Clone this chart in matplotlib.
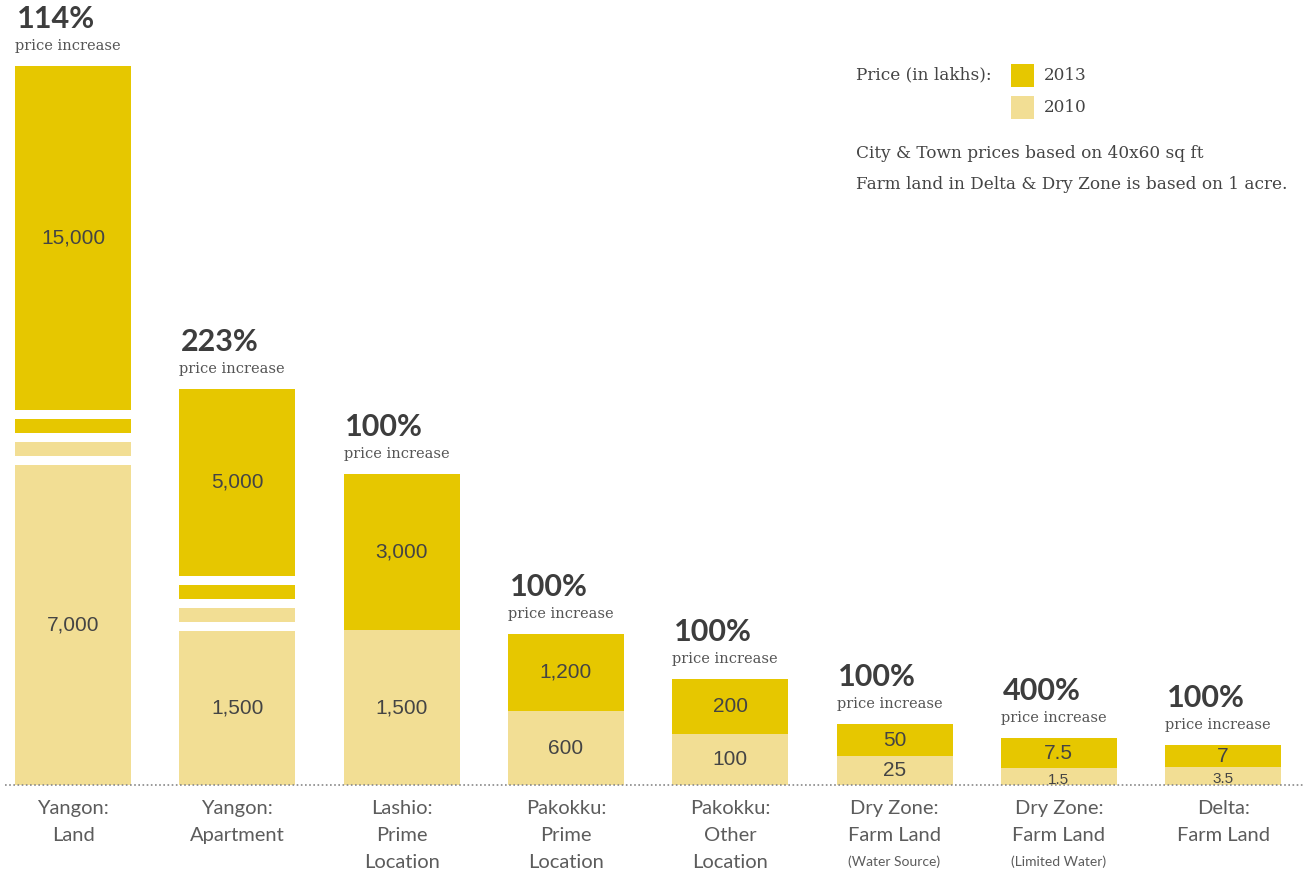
#Land price rise in Myanmar, 2010 vs 2013 (not drawn to scale)
import matplotlib.pyplot as plt

categories = ["Yangon:\nLand", "Yangon:\nApartment", "Lashio:\nPrime\nLocation",
              "Pakokku:\nPrime\nLocation", "Pakokku:\nOther\nLocation",
              "Dry Zone:\nFarm Land", "Dry Zone:\nFarm Land", "Delta:\nFarm Land"]
subnotes = ["", "", "", "", "", "(Water Source)", "(Limited Water)", ""]
price_2010 = ["7,000", "1,500", "1,500", "600", "100", "25", "1.5", "3.5"]
price_2013 = ["15,000", "5,000", "3,000", "1,200", "200", "50", "7.5", "7"]
increase = ["114%", "223%", "100%", "100%", "100%", "100%", "400%", "100%"]

# the original is not to scale: drawn block lengths (px)
drawn_2010 = [343, 177, 155, 74, 51, 29, 17, 18]
drawn_2013 = [376, 219, 156, 77, 55, 32, 30, 22]
broken = [True, True, False, False, False, False, False, False]
gap, stub = 9, 14

c13 = "#E6C700"
c10 = "#F2DE94"
dark = "#444444"
serif = "DejaVu Serif"
sans = "Liberation Sans"

fig = plt.figure(figsize=(13.03, 8.72), dpi=100)
ax = fig.add_axes([0, 0, 1, 1])
ax.set_xlim(-73 / 164.3, (1303 - 73) / 164.3)
ax.set_ylim(-87, 785)
ax.axis("off")
w = 116 / 164.3

for i in range(len(categories)):
    b10 = drawn_2010[i]
    b13 = drawn_2013[i]
    if broken[i]:
        main10 = b10 - stub - gap
        ax.bar(i, main10, w, bottom=0, color=c10, lw=0)
        ax.bar(i, stub, w, bottom=b10 - stub, color=c10, lw=0)
        ax.bar(i, stub, w, bottom=b10 + gap, color=c13, lw=0)
        ax.bar(i, b13 - stub - 2 * gap, w, bottom=b10 + stub + 2 * gap, color=c13, lw=0)
        y10 = main10 / 2
        y13 = b10 + stub + 2 * gap + (b13 - stub - 2 * gap) / 2
    else:
        ax.bar(i, b10, w, bottom=0, color=c10, lw=0)
        ax.bar(i, b13, w, bottom=b10, color=c13, lw=0)
        y10 = b10 / 2
        y13 = b10 + b13 / 2
    small10 = b10 < 20
    ax.text(i, y10 - (3 if small10 else 0), price_2010[i], ha="center", va="center",
            fontsize=11 if small10 else 15, color=dark, family=sans)
    ax.text(i, y13, price_2013[i], ha="center", va="center", fontsize=15, color=dark, family=sans)
    top = b10 + b13
    ax.text(i - w / 2 + 0.01, top + 38, increase[i], ha="left", va="baseline", fontsize=22,
            fontweight="bold", color="#3d3d3d", family="Lato")
    ax.text(i - w / 2, top + 16, "price increase", ha="left", va="baseline", fontsize=10.5,
            color="#555555", family=serif)
    # category name, one line at a time (27 px apart like the original)
    for k, line in enumerate(categories[i].split("\n")):
        ax.text(i, -23 - 27 * k, line, ha="center", va="center", fontsize=14.5,
                color="#5c5c5c", family="Lato")
    if subnotes[i]:
        ax.text(i, -77, subnotes[i], ha="center", va="center", fontsize=10,
                color="#5c5c5c", family="Lato")

ax.axhline(0, xmin=5 / 1303, xmax=1, color="#888888", lw=1.2, ls=(0, (1, 1.5)))

# legend and notes, placed in figure pixels
def fx(px):
    return px / 1303

def fy(py):
    return 1 - py / 872

fig.text(fx(856), fy(75), "Price (in lakhs):", ha="left", va="center", fontsize=12.2,
         color=dark, family=serif)
for py, col, lab in [(64, c13, "2013"), (96, c10, "2010")]:
    fig.patches.append(plt.Rectangle((fx(1011), fy(py + 23)), 23 / 1303, 23 / 872,
                                     transform=fig.transFigure, color=col, lw=0))
    fig.text(fx(1044), fy(py + 11.5), lab, ha="left", va="center", fontsize=12.2,
             color=dark, family=serif)
fig.text(fx(856), fy(154), "City & Town prices based on 40x60 sq ft", ha="left", va="center",
         fontsize=12.2, color=dark, family=serif)
fig.text(fx(856), fy(184), "Farm land in Delta & Dry Zone is based on 1 acre.", ha="left",
         va="center", fontsize=12.2, color=dark, family=serif)

fig.savefig("out.png", dpi=100, facecolor="white")
